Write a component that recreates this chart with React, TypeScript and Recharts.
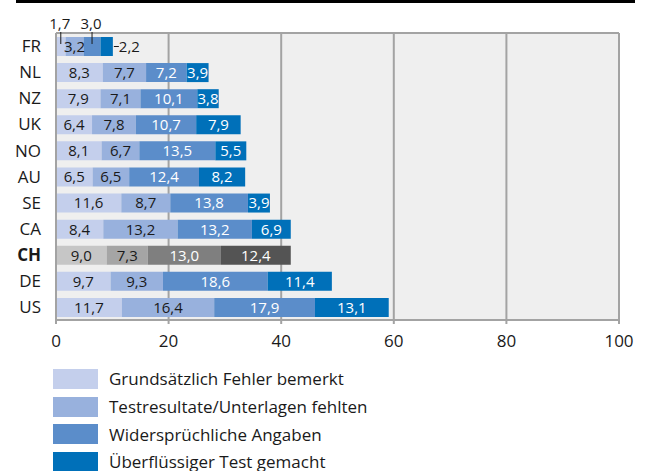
import React from 'react';
import { BarChart, Bar, XAxis, YAxis, CartesianGrid, Cell, LabelList } from 'recharts';

const countries = ['FR', 'NL', 'NZ', 'UK', 'NO', 'AU', 'SE', 'CA', 'CH', 'DE', 'US'];
const fehlerBemerkt = [1.7, 8.3, 7.9, 6.4, 8.1, 6.5, 11.6, 8.4, 9.0, 9.7, 11.7];
const testresultateFehlten = [3.2, 7.7, 7.1, 7.8, 6.7, 6.5, 8.7, 13.2, 7.3, 9.3, 16.4];
const widerspruechlich = [3.0, 7.2, 10.1, 10.7, 13.5, 12.4, 13.8, 13.2, 13.0, 18.6, 17.9];
const ueberfluessig = [2.2, 3.9, 3.8, 7.9, 5.5, 8.2, 3.9, 6.9, 12.4, 11.4, 13.1];
const seriesNames = [
  'Grundsätzlich Fehler bemerkt',
  'Testresultate/Unterlagen fehlten',
  'Widersprüchliche Angaben',
  'Überflüssiger Test gemacht',
];
const xTicks = [0, 20, 40, 60, 80, 100];

const blueColors = ['#c4cfec', '#98b1dd', '#5b8dca', '#0070b9'];
const grayColors = ['#c6c6c6', '#a5a5a5', '#7f7f7f', '#545454'];
const textColors = ['#1a1a1a', '#1a1a1a', '#ffffff', '#ffffff'];
const FONT = '"Open Sans", sans-serif';
const GRID = '#a3a3a3';

const keys = ['s1', 's2', 's3', 's4'];
const data = countries.map((c, i) => ({
  name: c,
  s1: fehlerBemerkt[i],
  s2: testresultateFehlten[i],
  s3: widerspruechlich[i],
  s4: ueberfluessig[i],
}));

const fmt = (v: number) => v.toFixed(1).replace('.', ',');

const makeLabel = (si: number) => (props: any) => {
  const { x, y, width, height, value, index } = props;
  const name = countries[index];
  const cx = x + width / 2;
  const cy = y + height / 2;
  const common = { fontFamily: FONT, fontSize: 15 } as any;
  if (name === 'FR') {
    if (si === 0 || si === 2) {
      return (
        <g>
          <line x1={cx} x2={cx} y1={y - 5} y2={y + height - 12} stroke="#1a1a1a" strokeWidth={1} />
          <text x={cx - 1} y={y - 8} textAnchor="middle" fill="#1a1a1a" {...common}>{fmt(value)}</text>
        </g>
      );
    }
    if (si === 3) {
      return (
        <g>
          <line x1={x + width + 1} x2={x + width + 6} y1={cy} y2={cy} stroke="#1a1a1a" strokeWidth={1} />
          <text x={x + width + 6} y={cy} dy="0.36em" textAnchor="start" fill="#1a1a1a" {...common}>{fmt(value)}</text>
        </g>
      );
    }
  }
  return (
    <text x={cx} y={cy} dy="0.36em" textAnchor="middle" fill={textColors[si]} {...common}>{fmt(value)}</text>
  );
};

const YTick = (props: any) => {
  const { x, y, payload } = props;
  const bold = payload.value === 'CH';
  return (
    <text x={x} y={y} dy="0.36em" textAnchor="end" fill="#1a1a1a" fontFamily={FONT} fontSize={17} fontWeight={bold ? 700 : 400}>
      {payload.value}
    </text>
  );
};

export default function App() {
  return (
    <div style={{ position: 'absolute', left: 0, top: 0, width: 649, height: 471, background: '#fff', overflow: 'hidden' }}>
      <div style={{ position: 'absolute', left: 16, top: 0, width: 619, height: 3, background: '#000' }} />
      <BarChart
        width={649}
        height={362}
        data={data}
        layout="vertical"
        margin={{ top: 33, right: 30, left: 0, bottom: 12 }}
        barSize={19}
      >
        <CartesianGrid
          fill="#efefef"
          stroke={GRID}
          strokeWidth={2}
          vertical={true}
          horizontal={true}
          horizontalCoordinatesGenerator={(p: any) => [p.offset.top]}
        />
        <XAxis
          type="number"
          domain={[0, 100]}
          ticks={xTicks}
          height={30}
          axisLine={{ stroke: GRID, strokeWidth: 2 }}
          tickLine={{ stroke: GRID, strokeWidth: 2 }}
          tickSize={4}
          tickMargin={11}
          tick={{ fill: '#1a1a1a', fontFamily: FONT, fontSize: 17 }}
        />
        <YAxis
          type="category"
          dataKey="name"
          width={56}
          axisLine={{ stroke: GRID, strokeWidth: 2 }}
          tickLine={false}
          tickSize={0}
          tickMargin={15}
          tick={<YTick />}
          interval={0}
        />
        {keys.map((k, si) => (
          <Bar key={k} dataKey={k} name={seriesNames[si]} stackId="a" fill={blueColors[si]} isAnimationActive={false}>
            {countries.map((c) => (
              <Cell key={c} fill={c === 'CH' ? grayColors[si] : blueColors[si]} />
            ))}
            <LabelList dataKey={k} content={makeLabel(si)} />
          </Bar>
        ))}
      </BarChart>
      <div style={{ position: 'absolute', left: 53, top: 365, fontFamily: FONT, fontSize: 17, color: '#1a1a1a' }}>
        {seriesNames.map((n, i) => (
          <div key={n} style={{ display: 'flex', alignItems: 'center', height: 27.7 }}>
            <div style={{ width: 45, height: 20, background: blueColors[i], marginRight: 11 }} />
            <span style={{ whiteSpace: 'nowrap' }}>{n}</span>
          </div>
        ))}
      </div>
    </div>
  );
}
